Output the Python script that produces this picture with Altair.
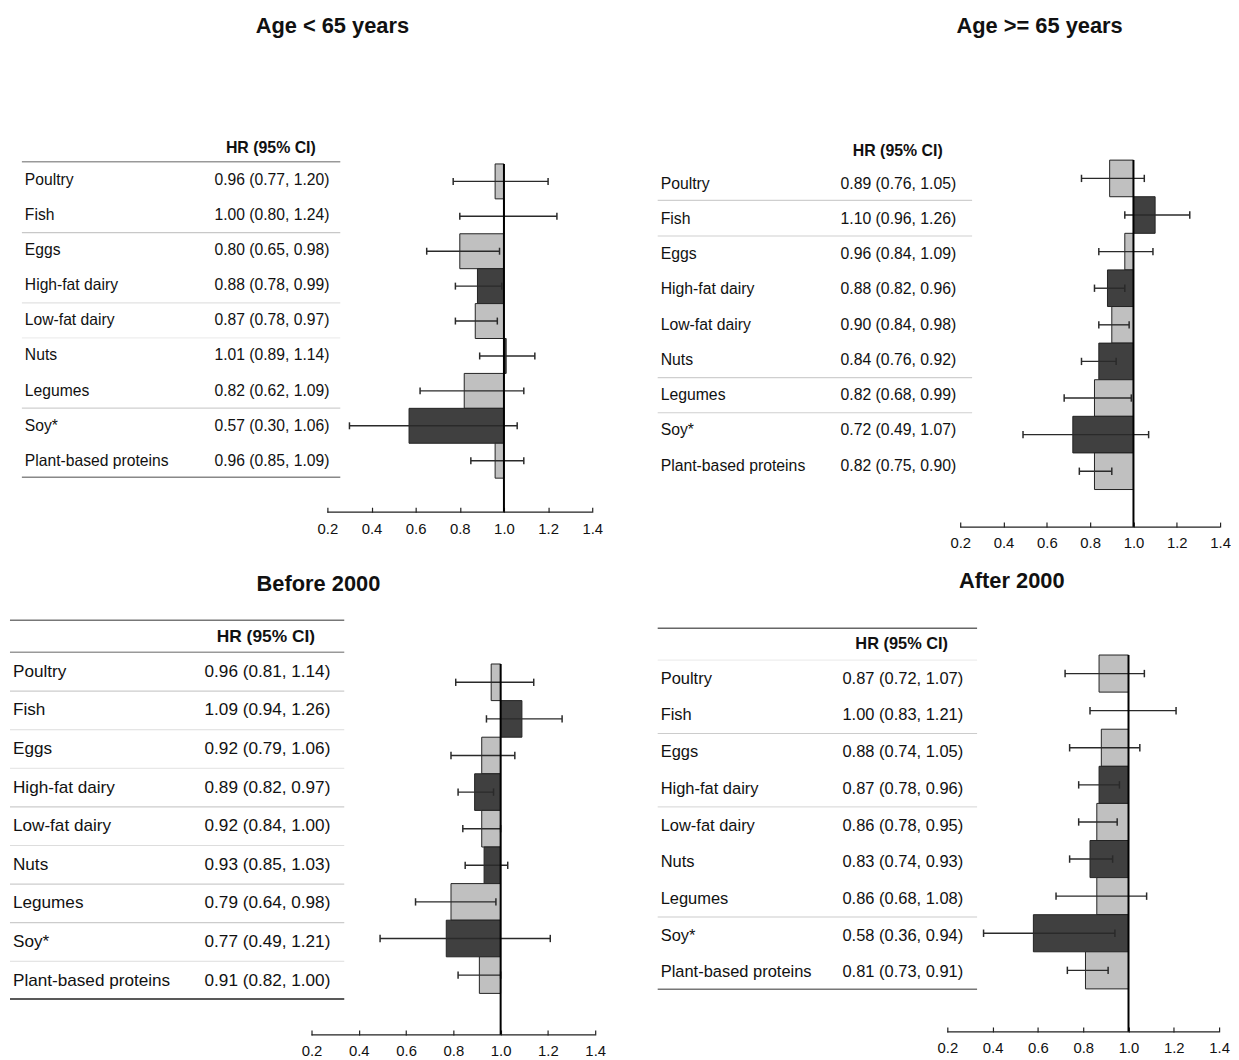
import altair as alt
import pandas as pd

# ---------------- data ----------------
foods = ["Poultry", "Fish", "Eggs", "High-fat dairy", "Low-fat dairy",
         "Nuts", "Legumes", "Soy*", "Plant-based proteins"]

panel_titles = ["Age < 65 years", "Age >= 65 years", "Before 2000", "After 2000"]
header_text = "HR (95% CI)"

age_lt65_hr = [0.96, 1.00, 0.80, 0.88, 0.87, 1.01, 0.82, 0.57, 0.96]
age_lt65_lo = [0.77, 0.80, 0.65, 0.78, 0.78, 0.89, 0.62, 0.30, 0.85]
age_lt65_hi = [1.20, 1.24, 0.98, 0.99, 0.97, 1.14, 1.09, 1.06, 1.09]

age_ge65_hr = [0.89, 1.10, 0.96, 0.88, 0.90, 0.84, 0.82, 0.72, 0.82]
age_ge65_lo = [0.76, 0.96, 0.84, 0.82, 0.84, 0.76, 0.68, 0.49, 0.75]
age_ge65_hi = [1.05, 1.26, 1.09, 0.96, 0.98, 0.92, 0.99, 1.07, 0.90]

before2000_hr = [0.96, 1.09, 0.92, 0.89, 0.92, 0.93, 0.79, 0.77, 0.91]
before2000_lo = [0.81, 0.94, 0.79, 0.82, 0.84, 0.85, 0.64, 0.49, 0.82]
before2000_hi = [1.14, 1.26, 1.06, 0.97, 1.00, 1.03, 0.98, 1.21, 1.00]

after2000_hr = [0.87, 1.00, 0.88, 0.87, 0.86, 0.83, 0.86, 0.58, 0.81]
after2000_lo = [0.72, 0.83, 0.74, 0.78, 0.78, 0.74, 0.68, 0.36, 0.73]
after2000_hi = [1.07, 1.21, 1.05, 0.96, 0.95, 0.93, 1.08, 0.94, 0.91]

tick_values = [0.2, 0.4, 0.6, 0.8, 1.0, 1.2, 1.4]
ref_value = 1.0

series = [
    (age_lt65_hr, age_lt65_lo, age_lt65_hi),
    (age_ge65_hr, age_ge65_lo, age_ge65_hi),
    (before2000_hr, before2000_lo, before2000_hi),
    (after2000_hr, after2000_lo, after2000_hi),
]

# ---------------- styling / layout ----------------
FONT = "Liberation Sans"
LIGHT = "#c0c0c0"
DARK = "#404040"
PW = 615
DX = 5  # nudge for the right-hand column

layouts = [
    dict(H=499, title=(327, 14), header=(265, -0.9), hsize=16, lx=17, vx=324, fs=15.8,
         t=(169, 35.4), b=(170.5, 35.2), xr=[322, 589], rx=(14, 335),
         rules=[(-0.52, "#999999", 1.5), (1.5, "#c8c8c8", 1.2), (3.5, "#e2e2e2", 1.2),
                (4.5, "#eeeeee", 1.2), (6.5, "#cfcfcf", 1.2), (8.47, "#888888", 1.5)]),
    dict(H=514, title=(420 + DX, 14), header=(277 + DX, -0.93), hsize=16, lx=38 + DX,
         vx=336 + DX, fs=15.9, t=(173, 35.5), b=(167.5, 36.9), xr=[340 + DX, 602 + DX],
         rx=(35 + DX, 352 + DX),
         rules=[(0.47, "#cfcfcf", 1.2), (1.48, "#cfcfcf", 1.2), (5.5, "#cfcfcf", 1.2),
                (6.5, "#cfcfcf", 1.2)]),
    dict(H=512, title=(313, 62), header=(260, -0.9), hsize=17.5, lx=5, vx=325, fs=17.3,
         t=(151, 38.9), b=(161.5, 36.9), xr=[306, 592], rx=(2, 339),
         rules=[(-1.34, "#777777", 1.5), (-0.51, "#999999", 1.5), (0.5, "#cccccc", 1.2),
                (1.5, "#dddddd", 1.2), (2.5, "#e8e8e8", 1.2), (3.5, "#cccccc", 1.2),
                (4.5, "#dddddd", 1.2), (5.5, "#cccccc", 1.2), (6.5, "#cccccc", 1.2),
                (7.5, "#dddddd", 1.2), (8.48, "#222222", 1.5)]),
    dict(H=509, title=(392 + DX, 59), header=(281 + DX, -0.95), hsize=16.5, lx=38 + DX,
         vx=343 + DX, fs=16.6, t=(158, 37.0), b=(152.7, 37.4), xr=[327 + DX, 601 + DX],
         rx=(35 + DX, 357 + DX),
         rules=[(-1.38, "#666666", 1.5), (-0.51, "#eeeeee", 1.2), (1.49, "#cccccc", 1.2),
                (3.49, "#dddddd", 1.2), (6.49, "#cccccc", 1.2), (8.46, "#777777", 1.5)]),
]


def panel(i):
    L = layouts[i]
    hr, lo, hi = series[i]
    df = pd.DataFrame({"food": foods, "row": list(range(len(foods))),
                       "hr": hr, "lo": lo, "hi": hi})
    df["ci"] = [f"{a:.2f} ({b:.2f}, {c:.2f})" for a, b, c in zip(hr, lo, hi)]

    n = len(foods) - 1
    xs = alt.Scale(domain=[tick_values[0], tick_values[-1]], range=L["xr"], nice=False, zero=False)
    ts = alt.Scale(domain=[0, n], range=[L["t"][0], L["t"][0] + n * L["t"][1]], nice=False, zero=False)
    bs = alt.Scale(domain=[0, n], range=[L["b"][0], L["b"][0] + n * L["b"][1]], nice=False, zero=False)
    xaxis = alt.Axis(values=tick_values, format=".1f", domain=False, grid=False,
                     tickSize=5, tickColor="#222222", tickWidth=1.2,
                     labelFont=FONT, labelFontSize=15, labelColor="#111111",
                     labelPadding=9, labelFlush=False, labelOverlap=False, title=None)
    H = L["H"]
    base = alt.Chart(df)

    bars = base.transform_calculate(
        y0="datum.row - 0.5", y1="datum.row + 0.5"
    ).mark_bar(stroke="#222222", strokeWidth=1).encode(
        x=alt.X("hr:Q", scale=xs, axis=xaxis),
        x2=alt.datum(ref_value),
        y=alt.Y("y0:Q", scale=bs, axis=None),
        y2="y1:Q",
        fill=alt.condition("datum.row % 2 == 0", alt.value(LIGHT), alt.value(DARK)),
    )

    err = base.mark_rule(color="#2a2a2a", strokeWidth=1.4).encode(
        x=alt.X("lo:Q", scale=xs, axis=xaxis),
        x2="hi:Q",
        y=alt.Y("row:Q", scale=bs, axis=None),
    )
    caps_base = base.transform_calculate(c0="datum.row - 0.1", c1="datum.row + 0.1")
    cap_lo = caps_base.mark_rule(color="#2a2a2a", strokeWidth=1.5).encode(
        x=alt.X("lo:Q", scale=xs, axis=xaxis),
        y=alt.Y("c0:Q", scale=bs, axis=None), y2="c1:Q")
    cap_hi = caps_base.mark_rule(color="#2a2a2a", strokeWidth=1.5).encode(
        x=alt.X("hi:Q", scale=xs, axis=xaxis),
        y=alt.Y("c0:Q", scale=bs, axis=None), y2="c1:Q")

    ref = alt.Chart(pd.DataFrame({"v": [ref_value]})).mark_rule(
        color="#000000", strokeWidth=2).encode(
        x=alt.X("v:Q", scale=xs, axis=xaxis),
        y=alt.YDatum(-0.5, scale=bs, axis=None),
        y2=alt.value(H + 5),
    )

    dom = alt.Chart(pd.DataFrame({"a": [tick_values[0]], "b": [tick_values[-1]]})).mark_rule(
        color="#222222", strokeWidth=1.2).encode(
        x=alt.X("a:Q", scale=xs, axis=xaxis), x2="b:Q", y=alt.value(H + 5))

    labels = base.mark_text(align="left", baseline="middle", font=FONT,
                            fontSize=L["fs"], color="#111111").encode(
        x=alt.value(L["lx"]), y=alt.Y("row:Q", scale=ts, axis=None), text="food:N")
    values = base.mark_text(align="right", baseline="middle", font=FONT,
                            fontSize=L["fs"], color="#111111").encode(
        x=alt.value(L["vx"]), y=alt.Y("row:Q", scale=ts, axis=None), text="ci:N")

    rdf = pd.DataFrame({"pos": [r[0] for r in L["rules"]],
                        "col": [r[1] for r in L["rules"]],
                        "w": [r[2] for r in L["rules"]]})
    rules = alt.Chart(rdf).mark_rule().encode(
        x=alt.value(L["rx"][0]), x2=alt.value(L["rx"][1]),
        y=alt.Y("pos:Q", scale=ts, axis=None),
        color=alt.Color("col:N", scale=None),
        strokeWidth=alt.StrokeWidth("w:Q", scale=None),
    )

    header = alt.Chart(pd.DataFrame({"t": [header_text], "p": [L["header"][1]]})).mark_text(
        align="center", baseline="middle", font=FONT, fontSize=L["hsize"],
        fontWeight="bold", color="#111111").encode(
        x=alt.value(L["header"][0]), y=alt.Y("p:Q", scale=ts, axis=None), text="t:N")

    title = alt.Chart(pd.DataFrame({"t": [panel_titles[i]]})).mark_text(
        align="center", baseline="middle", font=FONT, fontSize=22,
        fontWeight="bold", color="#111111").encode(
        x=alt.value(L["title"][0]), y=alt.value(L["title"][1]), text="t:N")

    return alt.layer(rules, bars, err, cap_lo, cap_hi, ref, dom, labels, values,
                     header, title).resolve_scale(y="independent").properties(
        width=PW, height=H)


chart = alt.concat(panel(0), panel(1), panel(2), panel(3), columns=2,
                   spacing=0, bounds="flush").properties(
    padding=0, background="white"
).configure_view(stroke=None)

chart.save("out.html", embed_options={"renderer": "svg", "actions": False})
